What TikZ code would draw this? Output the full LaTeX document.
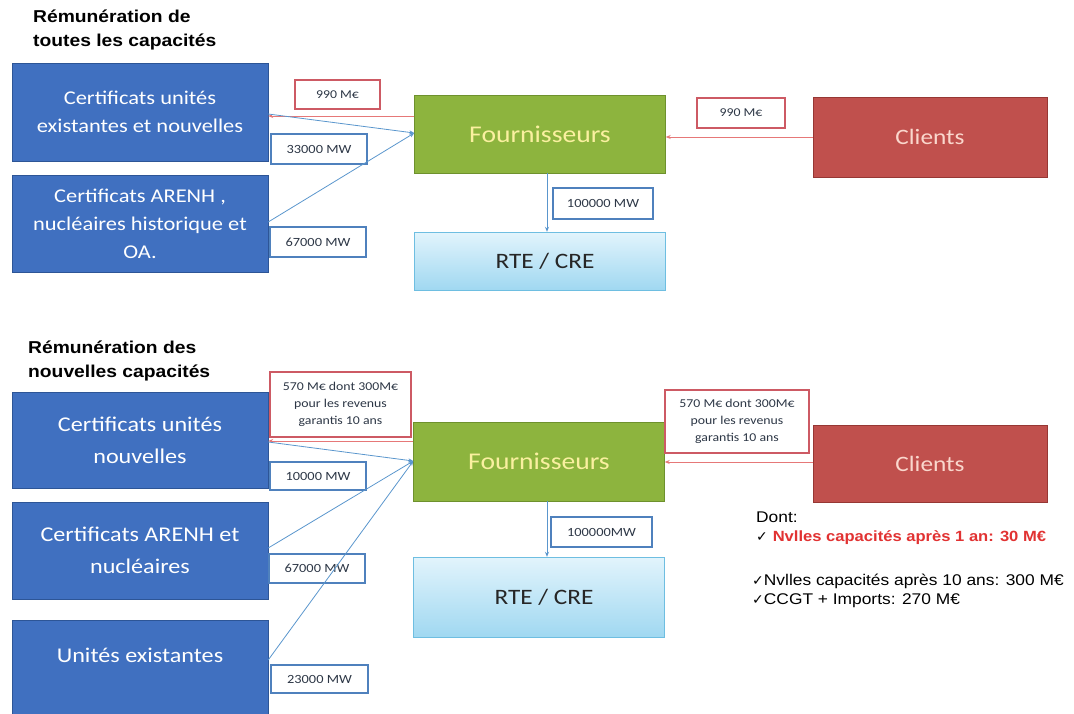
\documentclass[tikz,border=0pt]{standalone}
\usepackage{fontspec}
\newfontfamily\calfont[FakeStretch=1.15]{Carlito}
\newfontfamily\arifont[FakeStretch=1.12]{Liberation Sans}
\newfontfamily\dvfont{DejaVu Sans}
\usetikzlibrary{arrows.meta}
\definecolor{boxblue}{RGB}{64,112,192}
\definecolor{boxblueb}{RGB}{45,85,150}
\definecolor{fgreen}{RGB}{141,180,62}
\definecolor{fgreenb}{RGB}{110,145,45}
\definecolor{cred}{RGB}{192,80,77}
\definecolor{credb}{RGB}{150,55,52}
\definecolor{ltop}{RGB}{226,244,252}
\definecolor{lbot}{RGB}{160,216,241}
\definecolor{lborder}{RGB}{110,190,225}
\definecolor{lblblue}{RGB}{79,129,189}
\definecolor{lblred}{RGB}{205,90,100}
\definecolor{arrblue}{RGB}{90,150,205}
\definecolor{arrred}{RGB}{230,120,120}
\definecolor{lbltext}{RGB}{45,55,70}
\definecolor{fyellow}{RGB}{250,240,160}
\definecolor{cpink}{RGB}{250,215,205}
\definecolor{dontred}{RGB}{225,50,50}
\tikzset{
  bluebox/.style={draw=boxblueb, fill=boxblue, minimum width=256, minimum height=97,
    text=white, align=center, inner sep=0, font=\calfont\fontsize{19.5}{28}\selectfont},
  bigblue/.style={bluebox, font=\calfont\fontsize{21}{32}\selectfont},
  greenbox/.style={draw=fgreenb, fill=fgreen, minimum width=251, minimum height=79,
    text=fyellow, inner sep=0, font=\calfont\fontsize{24}{28}\selectfont},
  redbox/.style={draw=credb, fill=cred, minimum width=234, minimum height=79,
    text=cpink, inner sep=0, font=\calfont\fontsize{22}{28}\selectfont},
  rtebox/.style={draw=lborder, top color=ltop, bottom color=lbot, minimum width=251,
    text=black!85, inner sep=0, font=\calfont\fontsize{22}{28}\selectfont},
  lblb/.style={draw=lblblue, line width=1.6pt, fill=white, inner sep=0, text=lbltext,
    font=\calfont\fontsize{12.5}{14}\selectfont},
  lblr/.style={draw=lblred, line width=1.6pt, fill=white, inner sep=0, text=lbltext,
    align=center, font=\calfont\fontsize{12}{17}\selectfont},
  title/.style={anchor=north west, align=left, inner sep=0, font=\arifont\bfseries\fontsize{17.2}{23.5}\selectfont},
  barr/.style={draw=arrblue, line width=0.8pt, -{Stealth[length=5pt,width=4pt]}},
  rarr/.style={draw=arrred, line width=0.8pt, -{Stealth[length=5pt,width=4pt]}},
  dont/.style={anchor=north west, align=left, inner sep=0, font=\arifont\fontsize{15.5}{19}\selectfont}
}
\newcommand{\chkmark}{{\dvfont\fontsize{14}{19}\selectfont ✓}}
\begin{document}
\begin{tikzpicture}[x=1pt,y=-1pt]
\useasboundingbox (0,0) rectangle (1074,713);
% ---------- top section ----------
\node[title] (t1) at (33,10) {Rémunération de\\toutes les capacités};
\node[bluebox, minimum height=98] (b1) at (140,112) {Certificats unités\\existantes et nouvelles};
\node[bluebox] (b2) at (140,223.5) {Certificats ARENH ,\\nucléaires historique et\\OA.};
\node[greenbox, minimum height=78] (f1) at (540,134) {Fournisseurs};
\node[redbox, minimum height=80] (c1) at (930,137) {Clients};
\node[rtebox, minimum height=58] (r1) at (540,261) {\hspace*{10pt}RTE / CRE};
\node[lblr, minimum width=85, minimum height=29] (l990a) at (337.5,94.5) {990 M€};
\node[lblb, minimum width=96, minimum height=30] (l33) at (319,149) {33000 MW};
\node[lblb, minimum width=96, minimum height=30] (l67) at (318,242) {67000 MW};
\node[lblr, minimum width=88, minimum height=30] (l990b) at (741,113) {990 M€};
\node[lblb, minimum width=100, minimum height=31] (l100a) at (603,203.5) {100000 MW};
\draw[rarr] ([yshift=18]f1.west) -- ([yshift=-4]b1.east);
\draw[barr] ([yshift=-2]b1.east) -- ([yshift=1]f1.west);
\draw[barr] ([yshift=1.5]b2.east) -- ([yshift=1]f1.west);
\draw[rarr] (c1.west) -- ([yshift=-3]f1.east);
\draw[barr] ([xshift=7]f1.south) -- ([xshift=7]r1.north);
% ---------- bottom section ----------
\node[title] (t2) at (28,341) {Rémunération des\\nouvelles capacités};
\node[bigblue, minimum height=96] (bA) at (140,440) {Certificats unités\\nouvelles};
\node[bigblue] (bB) at (140,550.5) {Certificats ARENH et\\nucléaires};
\node[bigblue, minimum height=100] (bC) at (140,670) {};
\node[bigblue, draw=none, fill=none, minimum height=0, minimum width=0] (bCt) at (140,655) {Unités existantes};
\node[greenbox] (f2) at (539,461.5) {Fournisseurs};
\node[redbox, minimum height=77] (c2) at (930,463.5) {Clients};
\node[rtebox, minimum height=80] (r2) at (539,597) {\hspace*{10pt}RTE / CRE};
\node[lblr, minimum width=141, minimum height=65] (l570a) at (340.5,404.5) {570 M€ dont 300M€\\pour les revenus\\garantis 10 ans};
\node[lblb, minimum width=96, minimum height=28] (l10) at (318,476) {10000 MW};
\node[lblb, minimum width=96, minimum height=29] (l67b) at (317,568.5) {67000 MW};
\node[lblb, minimum width=97, minimum height=28] (l23) at (319.5,679) {23000 MW};
\node[lblr, minimum width=144, minimum height=63] (l570b) at (737,421.5) {570 M€ dont 300M€\\pour les revenus\\garantis 10 ans};
\node[lblb, minimum width=101, minimum height=30] (l100b) at (601.5,532) {100000MW};
\draw[rarr] ([yshift=20.5]f2.west) -- ([yshift=-1]bA.east);
\draw[barr] ([yshift=-2]bA.east) -- ([yshift=0.5]f2.west);
\draw[barr] ([yshift=2.5]bB.east) -- ([yshift=0.5]f2.west);
\draw[barr] ([yshift=10]bC.east) -- ([yshift=0.5]f2.west);
\draw[rarr] ([yshift=1.5]c2.west) -- ([yshift=-0.5]f2.east);
\draw[barr] ([xshift=8]f2.south) -- ([xshift=8]r2.north);
\node[dont] (d1) at (756,512) {Dont:\\
  \chkmark\ \textcolor{dontred}{\bfseries\fontsize{14.8}{19}\selectfont Nvlles capacités après 1 an: 30 M€}};
\node[dont] (d2) at (752,574) {\chkmark Nvlles capacités après 10 ans: 300 M€\\
  \chkmark CCGT + Imports: 270 M€};
\end{tikzpicture}
\end{document}
